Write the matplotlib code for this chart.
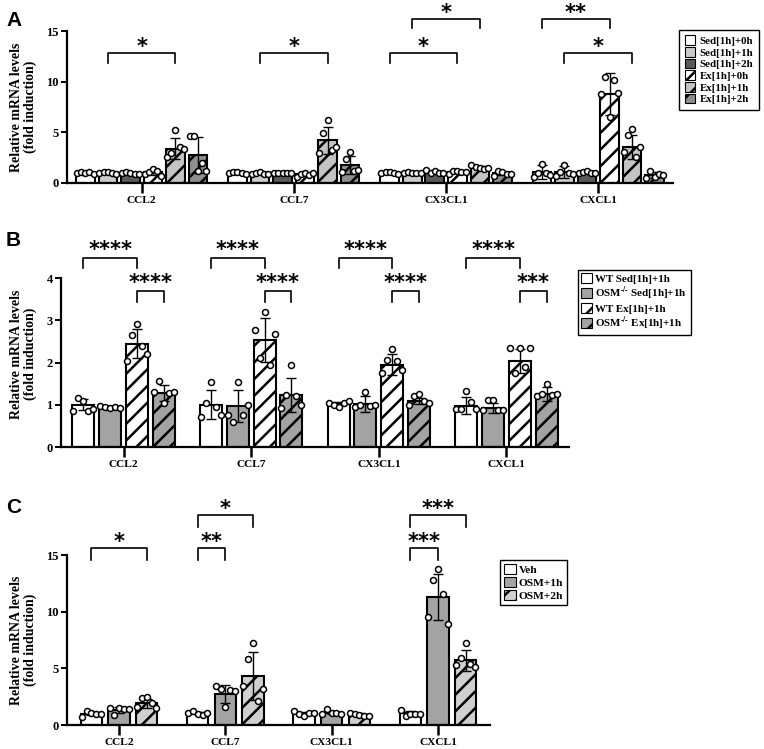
import numpy as np
import matplotlib
matplotlib.use("Agg")
import matplotlib.pyplot as plt
from matplotlib.patches import Patch

plt.rcParams['font.family'] = ['Liberation Serif', 'DejaVu Serif']
plt.rcParams['font.weight'] = 'bold'
plt.rcParams['hatch.linewidth'] = 1.8
plt.rcParams['mathtext.fontset'] = 'stix'

genes = ['CCL2', 'CCL7', 'CX3CL1', 'CXCL1']

# ---- Panel A data (rows = genes, cols = groups)
a_labels = ['Sed[1h]+0h', 'Sed[1h]+1h', 'Sed[1h]+2h', 'Ex[1h]+0h', 'Ex[1h]+1h', 'Ex[1h]+2h']
a_means = [[1.0, 1.0, 0.95, 1.05, 3.4, 2.75],
           [1.0, 0.95, 1.0, 0.85, 4.2, 1.8],
           [1.0, 1.0, 1.1, 1.1, 1.55, 0.95],
           [1.05, 1.1, 1.05, 8.8, 3.55, 0.8]]
a_sd = [[0.08, 0.08, 0.08, 0.25, 1.0, 1.75],
        [0.08, 0.08, 0.05, 0.15, 1.3, 0.9],
        [0.08, 0.05, 0.12, 0.1, 0.15, 0.18],
        [0.7, 0.6, 0.1, 2.05, 1.15, 0.3]]
a_points = [[[1.0, 1.1, 0.95, 1.05, 0.9], [1.0, 1.1, 1.05, 0.95, 0.9], [0.95, 1.05, 1.0, 0.9, 0.85],
             [0.9, 1.1, 1.4, 1.2, 0.7], [2.6, 3.0, 5.2, 3.6, 3.4], [4.6, 4.6, 1.2, 2.0, 1.2]],
            [[1.0, 1.1, 1.05, 0.95, 0.9], [0.9, 1.0, 1.05, 0.9, 0.85], [1.0, 1.0, 1.0, 1.0, 1.0],
             [0.6, 0.9, 1.0, 0.8, 0.95], [3.0, 4.9, 6.2, 3.3, 3.6], [1.1, 2.4, 3.1, 1.2, 1.3]],
            [[1.0, 1.1, 1.05, 0.95, 0.9], [1.0, 1.05, 1.0, 0.95, 1.0], [1.3, 1.0, 1.2, 1.0, 1.0],
             [0.9, 1.2, 1.2, 1.1, 1.1], [1.8, 1.6, 1.5, 1.4, 1.45], [0.7, 1.2, 1.1, 0.9, 0.85]],
            [[0.6, 1.0, 1.9, 1.0, 0.8], [0.7, 1.1, 1.8, 1.0, 0.9], [1.0, 1.1, 1.2, 1.0, 0.95],
             [8.8, 10.5, 6.5, 10.2, 8.9], [3.1, 4.7, 5.3, 2.6, 3.6], [0.5, 1.2, 0.6, 0.9, 0.8]]]
a_colors = ['white', '#cccccc', '#5a5a5a', 'white', '#c4c4c4', '#8e8e8e']
a_hatch = ['', '', '', '//', '//', '//']

# ---- Panel B data
b_labels = ['WT Sed[1h]+1h', r'OSM$^{\text{-/-}}$ Sed[1h]+1h', 'WT Ex[1h]+1h',
            r'OSM$^{\text{-/-}}$ Ex[1h]+1h']
b_means = [[1.0, 0.95, 2.45, 1.28],
           [1.0, 0.97, 2.53, 1.24],
           [1.03, 1.02, 1.95, 1.09],
           [0.98, 0.93, 2.03, 1.26]]
b_sd = [[0.13, 0.03, 0.35, 0.18],
        [0.34, 0.38, 0.52, 0.4],
        [0.04, 0.18, 0.25, 0.07],
        [0.2, 0.12, 0.28, 0.17]]
b_points = [[[0.85, 1.15, 1.1, 0.85, 0.9], [0.97, 0.95, 0.93, 0.95, 0.93],
             [2.03, 2.66, 2.9, 2.39, 2.19], [1.3, 1.56, 1.03, 1.28, 1.3]],
            [[0.7, 1.03, 1.55, 0.95, 0.75], [0.75, 0.6, 1.55, 0.75, 1.0],
             [2.78, 2.1, 3.2, 1.95, 2.68], [0.92, 1.24, 1.95, 1.2, 1.0]],
            [[1.05, 1.0, 0.95, 1.05, 1.08], [0.95, 1.0, 1.3, 0.97, 1.0],
             [1.75, 2.07, 2.32, 2.03, 1.83], [1.0, 1.2, 1.25, 1.1, 1.05]],
            [[0.91, 0.91, 1.33, 1.06, 0.91], [0.88, 1.12, 1.12, 0.88, 0.87],
             [2.35, 1.75, 2.35, 1.9, 2.35], [1.2, 1.25, 1.5, 1.23, 1.25]]]
b_colors = ['white', '#a3a3a3', 'white', '#a3a3a3']
b_hatch = ['', '', '//', '//']

# ---- Panel C data
c_labels = ['Veh', 'OSM+1h', 'OSM+2h']
c_means = [[1.0, 1.35, 1.9],
           [1.05, 2.75, 4.3],
           [1.05, 1.1, 0.9],
           [1.05, 11.3, 5.7]]
c_sd = [[0.15, 0.25, 0.4],
        [0.1, 0.8, 2.1],
        [0.12, 0.15, 0.12],
        [0.15, 2.05, 0.9]]
c_points = [[[0.75, 1.2, 1.05, 1.0, 0.95], [1.5, 0.9, 1.5, 1.4, 1.4], [1.6, 2.4, 2.5, 1.9, 1.5]],
            [[1.1, 1.2, 1.0, 0.85, 1.1], [3.4, 3.2, 1.55, 3.1, 3.0], [3.4, 5.8, 7.2, 2.15, 3.2]],
            [[1.2, 1.0, 0.8, 1.1, 1.1], [1.0, 1.4, 1.1, 1.05, 1.0], [1.1, 0.95, 0.85, 0.8, 0.8]],
            [[1.3, 0.8, 1.0, 1.0, 1.0], [9.56, 12.8, 13.76, 11.6, 8.88], [5.3, 5.9, 7.2, 5.35, 5.15]]]
c_colors = ['white', '#a3a3a3', '#d0d0d0']
c_hatch = ['', '', '//']

fig = plt.figure(figsize=(7.64, 7.49), dpi=100)


def draw_panel(ax, means, sds, points, colors, hatches, step, width, ymax, yticks):
    n = len(colors)
    offs = (np.arange(n) - (n - 1) / 2) * step
    jitter = np.linspace(-0.45, 0.45, 5) * width
    for g in range(len(genes)):
        for k in range(n):
            x = g + offs[k]
            ax.bar(x, means[g][k], width, color=colors[k], edgecolor='black',
                   hatch=hatches[k], linewidth=1.5, zorder=2)
            ax.errorbar(x, means[g][k], yerr=sds[g][k], color='black', lw=1,
                        capsize=3.5, capthick=1, zorder=3)
            ax.plot(x + jitter, points[g][k], 'o', mfc='white', mec='black',
                    ms=4.3, mew=1.1, zorder=4, clip_on=False)
    ax.set_xlim(-0.49, len(genes) - 0.51)
    ax.set_ylim(0, ymax)
    ax.set_yticks(yticks)
    ax.set_xticks(range(len(genes)))
    ax.set_xticklabels(genes)
    for s in ['top', 'right']:
        ax.spines[s].set_visible(False)
    for s in ['left', 'bottom']:
        ax.spines[s].set_linewidth(1.6)
    ax.tick_params(axis='x', length=7, width=1.8, labelsize=8.2, pad=2.5)
    ax.tick_params(axis='y', length=4, width=1.4, labelsize=9, pad=2)
    ax.set_ylabel('Relative mRNA levels\n(fold induction)', fontsize=10, fontweight='bold',
                  linespacing=1.05)
    return offs


def bracket(ax, offs, g, i, j, ytop, drop, text, lift):
    x1, x2 = g + offs[i], g + offs[j]
    ax.plot([x1, x1, x2, x2], [ytop - drop, ytop, ytop, ytop - drop], color='black',
            lw=1.2, clip_on=False, zorder=5)
    ax.annotate(text, xy=((x1 + x2) / 2, ytop), xytext=(0, lift), textcoords='offset points',
                ha='center', va='baseline', fontsize=15, family='DejaVu Sans',
                fontweight='bold', annotation_clip=False)


def make_legend(ax, labels, colors, hatches, xy, fs, spacing, bpad=0.35, tpad=0.25):
    handles = [Patch(facecolor=c, edgecolor='black', hatch=h, linewidth=0.8)
               for c, h in zip(colors, hatches)]
    ax.legend(handles, labels, loc='upper left', bbox_to_anchor=xy,
              bbox_transform=fig.transFigure, fontsize=fs, frameon=True, fancybox=False,
              edgecolor='black', framealpha=1, handlelength=1.0, handleheight=1.0,
              handletextpad=tpad, labelspacing=spacing, borderpad=bpad, borderaxespad=0)
    ax.get_legend().get_frame().set_linewidth(1.0)


# ---- A
axA = fig.add_axes([0.0877, 0.7557, 0.793, 0.2029])
offA = draw_panel(axA, a_means, a_sd, a_points, a_colors, a_hatch, 0.148, 0.122, 15, [0, 5, 10, 15])
axA.yaxis.set_label_coords(-0.05, 0.5)
bracket(axA, offA, 0, 1, 4, 12.8, 0.95, '*', 0)
bracket(axA, offA, 1, 1, 4, 12.8, 0.95, '*', 0)
bracket(axA, offA, 2, 0, 3, 12.8, 0.95, '*', 0)
bracket(axA, offA, 2, 1, 4, 16.2, 0.95, '*', 0)
bracket(axA, offA, 3, 0, 3, 16.2, 0.95, '**', 0)
bracket(axA, offA, 3, 1, 4, 12.8, 0.95, '*', 0)
make_legend(axA, a_labels, a_colors, a_hatch, (0.889, 0.960), 7.8, 0.1, bpad=0.5, tpad=0.4)

# ---- B
axB = fig.add_axes([0.0798, 0.4032, 0.665, 0.2256])
offB = draw_panel(axB, b_means, b_sd, b_points, b_colors, b_hatch, 0.21, 0.173, 4, [0, 1, 2, 3, 4])
axB.yaxis.set_label_coords(-0.047, 0.55)
for g in range(4):
    bracket(axB, offB, g, 0, 2, 4.48, 0.24, '****', 1)
    bracket(axB, offB, g, 2, 3, 3.7, 0.26, '***' if g == 3 else '****', 1)
make_legend(axB, b_labels, b_colors, b_hatch, (0.756, 0.640), 7.9, 0.08)

# ---- C
axC = fig.add_axes([0.0877, 0.0320, 0.5537, 0.227])
offC = draw_panel(axC, c_means, c_sd, c_points, c_colors, c_hatch, 0.26, 0.2, 15, [0, 5, 10, 15])
axC.yaxis.set_label_coords(-0.071, 0.5)
bracket(axC, offC, 0, 0, 2, 15.6, 1.0, '*', 0)
bracket(axC, offC, 1, 0, 1, 15.6, 1.0, '**', 0)
bracket(axC, offC, 1, 0, 2, 18.5, 1.0, '*', 0)
bracket(axC, offC, 3, 0, 1, 15.6, 1.0, '***', 0)
bracket(axC, offC, 3, 0, 2, 18.5, 1.0, '***', 0)
make_legend(axC, c_labels, c_colors, c_hatch, (0.655, 0.252), 8.2, 0.15)

# panel letters
for lbl, y in [('A', 0.985), ('B', 0.692), ('C', 0.335)]:
    fig.text(0.008, y, lbl, fontsize=15, fontweight='bold', family='Liberation Sans',
             va='top', ha='left')

fig.savefig('out.png', dpi=100)
